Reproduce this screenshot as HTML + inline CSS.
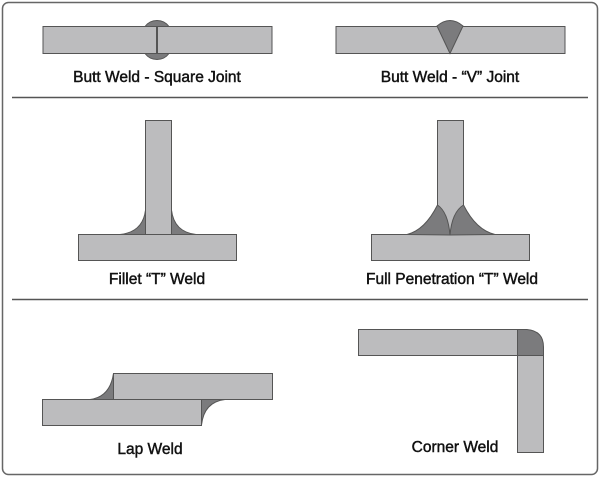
<!DOCTYPE html>
<html><head><style>
html,body{margin:0;padding:0;background:#fff;}
svg{display:block;}
text{font-family:"Liberation Sans",sans-serif;font-size:15.5px;fill:#111;stroke:#111;stroke-width:0.45px;text-anchor:middle;}
</style></head><body>
<svg width="600" height="477" viewBox="0 0 600 477">
<rect x="2.5" y="2.5" width="595" height="472" rx="6" fill="#fff" stroke="#666" stroke-width="1.5"/>
<line x1="12" y1="97.5" x2="588" y2="97.5" stroke="#555" stroke-width="1.5"/>
<line x1="12" y1="299.5" x2="588" y2="299.5" stroke="#555" stroke-width="1.5"/>
<g stroke="#555" stroke-width="1">
<circle cx="157" cy="40" r="15" fill="#7b7b7d"/>
<rect x="43" y="26.5" width="229" height="27" fill="#bcbcbe"/>
<path d="M145 26.5 A15 15 0 0 1 169 26.5 Z M145 53.5 A15 15 0 0 0 169 53.5 Z" fill="#7b7b7d"/>
<line x1="157" y1="26" x2="157" y2="54" stroke="#555" stroke-width="2"/>
<rect x="336" y="26.5" width="229" height="27" fill="#bcbcbe"/>
<path d="M450 53.5 L437 26 Q450 15 463 26 Z" fill="#7b7b7d"/>
<rect x="145.5" y="120.5" width="26" height="114" fill="#bcbcbe"/>
<rect x="78.5" y="234.5" width="158" height="26" fill="#bcbcbe"/>
<path d="M145.5 210 Q143 232 120 234.5 L145.5 234.5 Z" fill="#7b7b7d"/>
<path d="M171.5 210 Q174 232 196 234.5 L171.5 234.5 Z" fill="#7b7b7d"/>
<rect x="437.5" y="120.5" width="26" height="114" fill="#bcbcbe"/>
<rect x="371.5" y="234.5" width="158" height="26" fill="#bcbcbe"/>
<path d="M437.5 205 Q425 230 407 234.5 L450 235 Q448 212 437.5 205 Z" fill="#7b7b7d"/>
<path d="M463.5 205 Q476 230 495 234.5 L450 235 Q452 212 463.5 205 Z" fill="#7b7b7d"/>
<rect x="113.5" y="373.5" width="159" height="26" fill="#bcbcbe"/>
<rect x="42.5" y="399.5" width="159" height="26" fill="#bcbcbe"/>
<path d="M113.5 373.5 Q110 397 90 399.5 L113.5 399.5 Z" fill="#7b7b7d"/>
<path d="M201.5 425 Q204 402 225 399.5 L201.5 399.5 Z" fill="#7b7b7d"/>
<rect x="358.5" y="329.5" width="159" height="26" fill="#bcbcbe"/>
<rect x="517.5" y="355.5" width="26" height="97" fill="#bcbcbe"/>
<path d="M517.5 329.5 L527 329.5 Q543.5 331 543.5 347 L543.5 355.5 L517.5 355.5 Z" fill="#7b7b7d"/>
</g>
<text x="157" y="82">Butt Weld - Square Joint</text>
<text x="450" y="82">Butt Weld - “V” Joint</text>
<text x="157" y="284">Fillet “T” Weld</text>
<text x="452" y="284">Full Penetration “T” Weld</text>
<text x="150" y="454">Lap Weld</text>
<text x="455" y="452">Corner Weld</text>
</svg>
</body></html>
